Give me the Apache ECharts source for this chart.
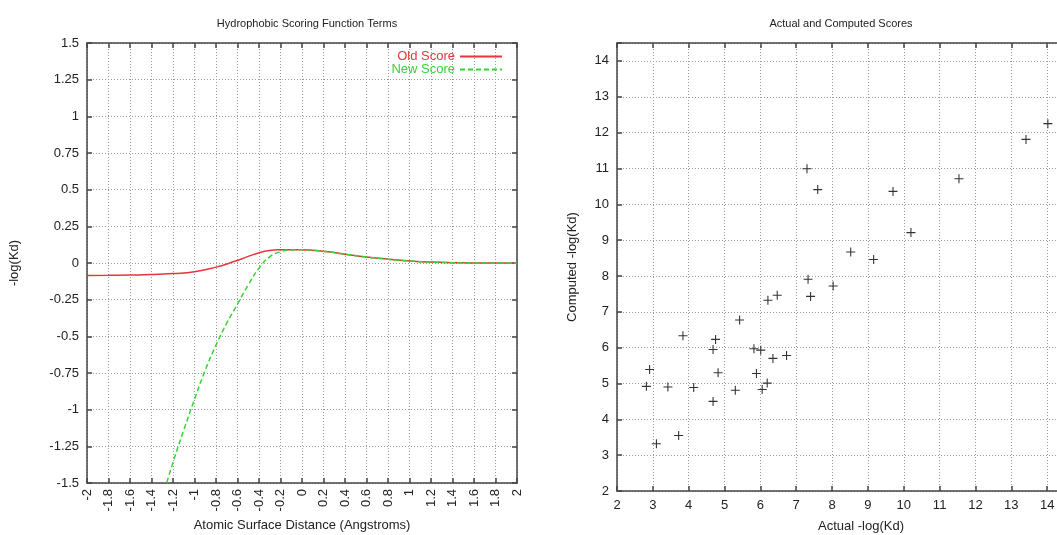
<!DOCTYPE html>
<html>
<head>
<meta charset="utf-8">
<script src="https://cdn.jsdelivr.net/npm/echarts@6/dist/echarts.min.js"></script>
<style>html,body{margin:0;padding:0;background:#fff;}#c{width:1057px;height:535px;}</style>
</head>
<body>
<div id="c"></div>
<script>
// ---- Data ----
const leftTitle = 'Hydrophobic Scoring Function Terms';
const rightTitle = 'Actual and Computed Scores';
const oldScore = [[-2,-0.085],[-1.8,-0.084],[-1.6,-0.082],[-1.4,-0.079],[-1.2,-0.072],[-1.0,-0.06],[-0.8,-0.028],[-0.64,0.008],[-0.5,0.045],[-0.39,0.072],[-0.3,0.085],[-0.2,0.09],[-0.1,0.091],[0,0.09],[0.2,0.08],[0.4,0.06],[0.6,0.041],[0.8,0.026],[1.0,0.014],[1.2,0.006],[1.4,0.002],[1.6,0.0],[1.8,0.0],[2.0,0.0]];
const newScore = [[-1.3,-1.6],[-1.2,-1.36],[-1.1,-1.14],[-1.0,-0.93],[-0.9,-0.73],[-0.8,-0.56],[-0.7,-0.41],[-0.6,-0.28],[-0.5,-0.15],[-0.4,-0.035],[-0.3,0.042],[-0.2,0.077],[-0.1,0.089],[0,0.09],[0.2,0.08],[0.4,0.06],[0.6,0.041],[0.8,0.026],[1.0,0.014],[1.2,0.006],[1.4,0.002],[1.6,0.0],[1.8,0.0],[2.0,0.0]];
const actualScores = [2.82,2.91,3.10,3.42,3.72,3.84,4.14,4.68,4.75,4.68,4.82,5.30,5.42,5.82,5.89,6.01,6.05,6.19,6.35,6.73,6.21,6.47,7.30,7.60,7.33,7.40,8.03,8.52,9.16,9.70,10.20,11.54,13.41,14.02];
const computedScores = [4.92,5.39,3.32,4.90,3.55,6.33,4.89,5.95,6.23,4.50,5.30,4.81,6.77,5.97,5.28,5.93,4.83,5.01,5.70,5.78,7.32,7.46,10.99,10.41,7.91,7.43,7.72,8.67,8.46,10.36,9.21,10.71,11.81,12.25];

const scatterData = actualScores.map((a, i) => [a, computedScores[i]]);

const FONT = 'Liberation Sans, Arial, sans-serif';
const BORDER = '#444';
const GRIDC = '#9a9a9a';
const txt = {color: '#222', fontFamily: FONT, fontSize: 13};

function baseAxis(extra) {
  return Object.assign({
    axisLine: {show: true, onZero: false, lineStyle: {color: BORDER, width: 1.5}},
    axisTick: {show: true, inside: true, length: 5, lineStyle: {color: BORDER, width: 1.5}},
    splitLine: {show: true, lineStyle: {color: GRIDC, type: [1, 2], width: 1}},
    axisLabel: Object.assign({}, txt),
    nameTextStyle: Object.assign({}, txt)
  }, extra);
}
function mirrorAxis(extra) {
  return Object.assign({
    axisLine: {show: true, onZero: false, lineStyle: {color: BORDER, width: 1.5}},
    axisTick: {show: true, inside: true, length: 5, lineStyle: {color: BORDER, width: 1.5}},
    splitLine: {show: false},
    axisLabel: {show: false}
  }, extra);
}

const chart = echarts.init(document.getElementById('c'), null, {renderer: 'canvas'});
chart.setOption({
  animation: false,
  backgroundColor: '#fff',
  title: [
    {text: leftTitle, left: 302, top: 13, textAlign: 'center', textStyle: {fontFamily: FONT, fontSize: 11, fontWeight: 'normal', color: '#222'}},
    {text: rightTitle, left: 836, top: 13, textAlign: 'center', textStyle: {fontFamily: FONT, fontSize: 11, fontWeight: 'normal', color: '#222'}}
  ],
  legend: {
    orient: 'vertical', align: 'right', right: 554, top: 50, itemGap: 0,
    itemWidth: 42, itemHeight: 14, padding: 0,
    itemStyle: {opacity: 0},
    textStyle: {fontFamily: FONT, fontSize: 13},
    data: [
      {name: 'Old Score', textStyle: {color: '#e8343c'}},
      {name: 'New Score', textStyle: {color: '#33d633'}}
    ]
  },
  grid: [
    {left: 87, top: 43, width: 430, height: 440, containLabel: false, outerBoundsMode: 'none'},
    {left: 617, top: 43, width: 466, height: 448, containLabel: false, outerBoundsMode: 'none'}
  ],
  xAxis: [
    baseAxis({type: 'value', gridIndex: 0, min: -2, max: 2, interval: 0.2, position: 'bottom',
      name: 'Atomic Surface Distance (Angstroms)', nameLocation: 'middle', nameGap: 36,
      axisLabel: Object.assign({}, txt, {rotate: 90, margin: 6, formatter: v => String(+(+v).toFixed(1))})}),
    mirrorAxis({type: 'value', gridIndex: 0, min: -2, max: 2, interval: 0.2, position: 'top'}),
    baseAxis({type: 'value', gridIndex: 1, min: 2, max: 15, interval: 1, position: 'bottom',
      axisLabel: Object.assign({}, txt, {margin: 8})}),
    mirrorAxis({type: 'value', gridIndex: 1, min: 2, max: 15, interval: 1, position: 'top'})
  ],
  yAxis: [
    baseAxis({type: 'value', gridIndex: 0, min: -1.5, max: 1.5, interval: 0.25, position: 'left',
      name: '-log(Kd)', nameLocation: 'middle', nameGap: 66,
      axisLabel: Object.assign({}, txt, {margin: 8})}),
    mirrorAxis({type: 'value', gridIndex: 0, min: -1.5, max: 1.5, interval: 0.25, position: 'right'}),
    baseAxis({type: 'value', gridIndex: 1, min: 2, max: 14.5, interval: 1, position: 'left',
      name: 'Computed -log(Kd)', nameLocation: 'middle', nameGap: 38,
      axisLabel: Object.assign({}, txt, {margin: 8, formatter: v => (Number.isInteger(v) ? String(v) : '')})})
  ],
  graphic: [
    {type: 'text', left: 818, top: 520, style: {text: 'Actual -log(Kd)', fill: '#222', font: '13px ' + FONT, textAlign: 'center'}}
  ],
  series: [
    {name: 'Old Score', type: 'line', xAxisIndex: 0, yAxisIndex: 0, data: oldScore, smooth: true, symbol: 'none',
      lineStyle: {color: '#e8343c', width: 1.5}, itemStyle: {color: '#e8343c'}},
    {name: 'New Score', type: 'line', xAxisIndex: 0, yAxisIndex: 0, data: newScore, smooth: true, symbol: 'none',
      lineStyle: {color: '#33d633', width: 1.5, type: [5, 3]}, itemStyle: {color: '#33d633'}},
    {name: 'Scores', type: 'scatter', xAxisIndex: 2, yAxisIndex: 2, data: scatterData,
      symbol: 'path://M4.4,0h1.2v4.4h4.4v1.2h-4.4v4.4h-1.2v-4.4h-4.4v-1.2h4.4z', symbolSize: 9,
      itemStyle: {color: '#333', opacity: 1}}
  ]
});
</script>
</body>
</html>
